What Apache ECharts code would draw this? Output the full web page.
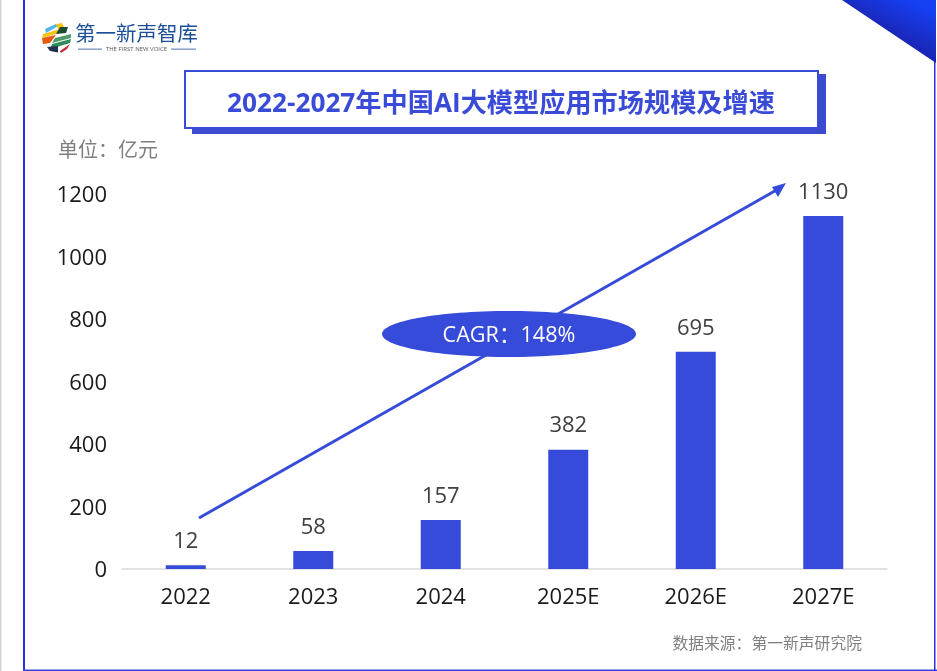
<!DOCTYPE html>
<html lang="zh">
<head>
<meta charset="UTF-8" />
<title>2022-2027年中国AI大模型应用市场规模及增速</title>
<style>
* { margin: 0; padding: 0; }
html, body { background: #fff; overflow: hidden; }
#chartEl { width: 937px; height: 671px; }
</style>
</head>
<body>
<div id="chartEl"></div>
<script src="https://cdn.jsdelivr.net/npm/echarts@6/dist/echarts.min.js"></script>
<script>
const years = ['2022', '2023', '2024', '2025E', '2026E', '2027E'];
const marketSize = [12, 58, 157, 382, 695, 1130];
const yMax = 1200;
const yStep = 200;

const titleText = '2022-2027年中国AI大模型应用市场规模及增速';
const unitText = '单位：亿元';
const sourceText = '数据来源：第一新声研究院';
const cagrText = 'CAGR：148%';
const logoText = '第一新声智库';
const logoSubText = 'THE FIRST NEW VOICE';

const BLUE = '#364bd9';
const FONT = '"Open Sans", "Noto Sans CJK SC", sans-serif';

const myChart = echarts.init(document.getElementById('chartEl'));

// logo ball, stripes cut off at the round edge
function logoStripes() {
  const stripes = [
    { pts: [[45, 29], [56, 24], [58, 26], [46, 33]], color: '#4fb3e8' },
    { pts: [[56, 24], [62, 23], [64, 27], [58, 29]], color: '#f5c518' },
    { pts: [[43, 34], [60, 29], [56, 34], [42, 38]], color: '#f5c518' },
    { pts: [[60, 27], [68, 27], [66, 33], [56, 34]], color: '#1d4d2f' },
    { pts: [[42, 38], [56, 35], [50, 43], [43, 44]], color: '#e8590c' },
    { pts: [[55, 38], [71, 34], [71, 38], [52, 43]], color: '#4f9a6b' },
    { pts: [[52, 44], [71, 39], [70, 43], [50, 49]], color: '#2f8a5d' },
    { pts: [[47, 47], [58, 46], [58, 52.5], [50, 51]], color: '#24304f' },
    { pts: [[60, 51], [70, 44], [67, 49], [61, 53]], color: '#c92a3a' }
  ];
  return stripes.map(s => ({
    type: 'polygon',
    shape: { points: s.pts },
    style: { fill: s.color },
    silent: true
  }));
}

const option = {
  animation: false,
  backgroundColor: '#fff',
  textStyle: { fontFamily: FONT },
  grid: { left: 122, right: 50, top: 194, bottom: 102 },
  xAxis: {
    type: 'category',
    data: years,
    axisTick: { show: false },
    axisLine: { lineStyle: { color: '#d9d9d9', width: 1.5 } },
    axisLabel: { color: '#1a1a1a', fontSize: 22, margin: 18, fontFamily: FONT }
  },
  yAxis: {
    type: 'value',
    min: 0,
    max: yMax,
    interval: yStep,
    axisLine: { show: false },
    axisTick: { show: false },
    splitLine: { show: false },
    axisLabel: {
      color: '#1a1a1a',
      fontSize: 22,
      margin: 15,
      fontFamily: FONT,
      verticalAlign: 'top',
      padding: [-9, 0, 0, 0],
      formatter: v => String(v)
    }
  },
  series: [
    {
      type: 'bar',
      data: marketSize,
      barWidth: 40,
      itemStyle: { color: BLUE },
      label: {
        show: true,
        position: 'top',
        distance: 12.5,
        color: '#404040',
        fontSize: 22,
        fontFamily: FONT
      }
    }
  ],
  graphic: [
    // page frame
    { type: 'rect', shape: { x: 0, y: 0, width: 1.5, height: 671 }, style: { fill: '#d4d4d4' }, silent: true },
    { type: 'rect', shape: { x: 23, y: 0, width: 2, height: 671 }, style: { fill: '#2a2fe0' }, silent: true },
    { type: 'rect', shape: { x: 23, y: 669.5, width: 914, height: 1.5 }, style: { fill: '#3a45dc' }, silent: true },
    { type: 'rect', shape: { x: 934, y: 0, width: 1.5, height: 671 }, style: { fill: '#2a2fe0' }, silent: true },
    // corner
    {
      type: 'polygon',
      shape: { points: [[842, 0], [936, 0], [936, 63]] },
      style: {
        fill: new echarts.graphic.LinearGradient(0.75, 0, 0.4, 1, [
          { offset: 0, color: '#1640f4' },
          { offset: 0.6, color: '#1a25b4' },
          { offset: 1, color: '#3d2a9e' }
        ])
      },
      silent: true
    },
    // logo
    ...logoStripes(),
    {
      type: 'text', x: 75, y: 33.5,
      style: { text: logoText, fill: '#1c4f96', font: '20.5px "Noto Sans CJK SC"', textVerticalAlign: 'middle' },
      silent: true
    },
    { type: 'rect', shape: { x: 78, y: 48.7, width: 24, height: 0.8 }, style: { fill: '#1c4f96' }, silent: true },
    { type: 'rect', shape: { x: 171, y: 48.7, width: 25, height: 0.8 }, style: { fill: '#1c4f96' }, silent: true },
    {
      type: 'text', x: 136.5, y: 49,
      style: { text: logoSubText, fill: '#555', font: '6px ' + FONT, textAlign: 'center', textVerticalAlign: 'middle' },
      silent: true
    },
    // title box
    { type: 'rect', shape: { x: 192, y: 74, width: 634, height: 60 }, style: { fill: '#3a4bd0' }, silent: true },
    {
      type: 'rect',
      shape: { x: 185, y: 71, width: 633, height: 57 },
      style: { fill: '#fff', stroke: '#3a4bd8', lineWidth: 2 },
      silent: true
    },
    {
      type: 'text', x: 501, y: 105,
      style: { text: titleText, fill: '#3a4bd8', font: 'bold 26.2px ' + FONT, textAlign: 'center', textVerticalAlign: 'middle' },
      silent: true
    },
    {
      type: 'text', x: 58, y: 151,
      style: { text: unitText, fill: '#7f7f7f', font: '20px ' + FONT, textVerticalAlign: 'middle' },
      silent: true
    },
    // growth arrow
    {
      type: 'line',
      shape: { x1: 199, y1: 518, x2: 780, y2: 188 },
      style: { stroke: BLUE, lineWidth: 3 },
      silent: true
    },
    {
      type: 'polygon',
      shape: { points: [[786, 183], [772, 187], [778, 197]] },
      style: { fill: BLUE },
      silent: true
    },
    {
      type: 'ellipse',
      shape: { cx: 509, cy: 334, rx: 127, ry: 23 },
      style: { fill: BLUE },
      silent: true
    },
    {
      type: 'text', x: 509, y: 336,
      style: { text: cagrText, fill: '#fff', font: '21.6px ' + FONT, textAlign: 'center', textVerticalAlign: 'middle' },
      silent: true
    },
    {
      type: 'text', x: 862, y: 644,
      style: { text: sourceText, fill: '#7f7f7f', font: '15.8px ' + FONT, textAlign: 'right', textVerticalAlign: 'middle' },
      silent: true
    }
  ]
};
myChart.setOption(option);
</script>
</body>
</html>
